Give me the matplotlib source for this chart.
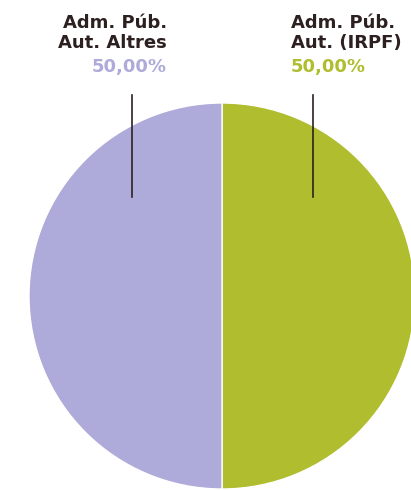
import matplotlib.pyplot as plt

# data
labels = ['Adm. Púb.\nAut. (IRPF)', 'Adm. Púb.\nAut. Altres']
values = [50.0, 50.0]
colors = ['#afbd2f', '#aeaad9']
text_color = '#2d2020'

W, H = 411, 490
fig = plt.figure(figsize=(W / 100, H / 100), dpi=100)
ax = fig.add_axes([0, 0, 1, 1])

# pie, first slice goes clockwise from the top (right half)
cx, cy, r = 222, H - 296, 193
ax.pie(values, colors=colors, startangle=90, counterclock=False,
       center=(cx, cy), radius=r, frame=True,
       wedgeprops=dict(edgecolor='white', linewidth=1))

ax.set_xlim(0, W)
ax.set_ylim(0, H)
ax.set_aspect('equal')
ax.axis('off')

font = dict(family='DejaVu Sans', fontweight='bold', fontsize=13)

# labels (right slice, then left slice)
pos = [(291, 'left', 313), (167, 'right', 132)]
for lab, val, col, (x, ha, lx) in zip(labels, values, colors, pos):
    ax.text(x, H - 48, lab, ha=ha, va='baseline', color=text_color,
            linespacing=1.12, **font)
    ax.text(x, H - 72, f'{val:.2f}%'.replace('.', ','), ha=ha,
            va='baseline', color=col, **font)
    ax.plot([lx, lx], [H - 95, H - 197], color=text_color, lw=1.2)

fig.savefig('out.png', dpi=100)
